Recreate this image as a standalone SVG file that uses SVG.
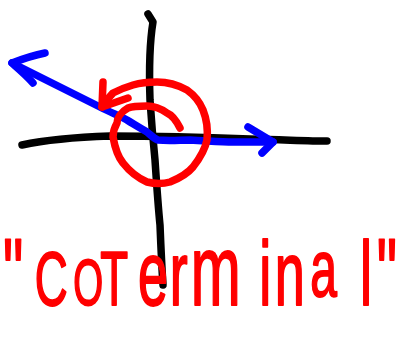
<svg xmlns="http://www.w3.org/2000/svg" width="417" height="350" viewBox="0 0 417 350">
<style>
.pen{fill:none;stroke-width:7.5;stroke-linecap:round;stroke-linejoin:round}
.k{stroke:#000}
.b{stroke:#0000ff}
.r{stroke:#ff0000}
.lbl{font-family:"Liberation Sans",Arial,sans-serif;fill:#ff0000;stroke:#ff0000;stroke-width:2;stroke-linejoin:round}
</style>
<rect width="417" height="350" fill="#fff"/>
<g id="axes">
<path class="pen k" d="M22,145 C45,140 80,137 110,136 C160,136 200,137 250,139 C290,140 310,141 327,141"/>
<path class="pen k" d="M148,14 L153,22 C150,40 149,70 150,100 C152,130 154,150 155,160 C157,190 159,215 160,225 C161,250 162,270 163,285"/>
</g>
<g id="terminal-ray">
<path class="pen b" d="M12,63 L100,107 C112,113 120,116 127,120 C135,125 142,129 147,132 C151,135 154,139 158,140 C170,141 180,140 190,140 C210,141 222,142 233,142 L273,142"/>
<path class="pen b" d="M45,53 C35,55 25,58 12,63 C20,70 27,76 33,83"/>
<path class="pen b" d="M248,127 L273,142 L262,153"/>
</g>
<g id="angle-arrow">
<path class="pen r" d="M180,128 C176,120 172,115 167,113 C160,108 153,106 147,106 C140,106 133,106 128,108 C121,112 117,118 117,123 C113,130 113,135 113,137 C115,148 118,157 123,163 C130,172 138,178 147,182 C155,184 163,184 170,182 C180,178 188,173 193,167 C200,158 205,150 207,140 C208,130 207,120 203,110 C199,100 194,95 187,90 C178,85 168,82 157,82 C148,82 140,83 133,85 C126,87 119,90 113,93 C108,98 105,102 102,107"/>
<path class="pen r" d="M103,82 L102,107 L128,98"/>
</g>
<g id="label">
<text class="lbl" transform="scale(0.6 1)" y="333" font-size="90"><tspan x="5" y="305" font-size="95">"</tspan><tspan x="58" font-size="76">C</tspan><tspan x="122" font-size="64">O</tspan><tspan x="167" font-size="76">T</tspan><tspan x="230">e</tspan><tspan x="283">r</tspan><tspan x="318" font-size="100">m</tspan><tspan x="432">i</tspan><tspan x="458">n</tspan><tspan x="517" font-size="80" dy="-9">a</tspan><tspan x="600" dy="9">l</tspan><tspan x="628" y="305" font-size="95">"</tspan></text>
</g>
</svg>
